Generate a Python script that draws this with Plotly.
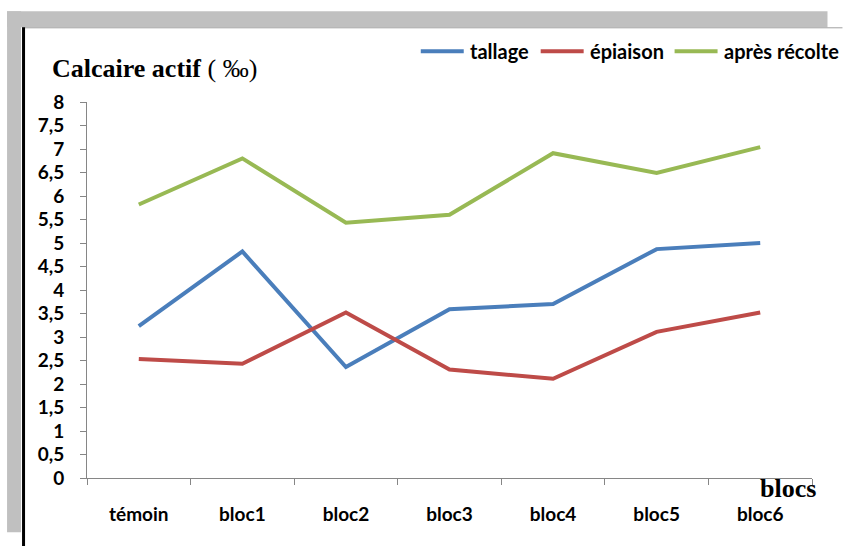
import plotly.graph_objects as go

# data
blocs = ['témoin', 'bloc1', 'bloc2', 'bloc3', 'bloc4', 'bloc5', 'bloc6']
tallage = [3.23, 4.82, 2.36, 3.59, 3.70, 4.87, 5.0]
epiaison = [2.53, 2.43, 3.52, 2.31, 2.11, 3.11, 3.52]
apres_recolte = [5.82, 6.80, 5.43, 5.60, 6.91, 6.49, 7.04]
series_names = ['tallage', 'épiaison', 'après récolte']
series_colors = ['#4A7EBB', '#BE4B48', '#98B954']
y_ticks = [0, 0.5, 1, 1.5, 2, 2.5, 3, 3.5, 4, 4.5, 5, 5.5, 6, 6.5, 7, 7.5, 8]
y_labels = ['0', '0,5', '1', '1,5', '2', '2,5', '3', '3,5', '4', '4,5',
            '5', '5,5', '6', '6,5', '7', '7,5', '8']

W, H = 843, 546
L, R, T, B = 87, 30.5, 101.7, 68.3
pw, ph = W - L - R, H - T - B


def px(x):
    return (x - L) / pw


def py(y):
    return (H - B - y) / ph


fig = go.Figure()
for name, vals, col in zip(series_names, [tallage, epiaison, apres_recolte], series_colors):
    fig.add_trace(go.Scatter(x=blocs, y=vals, mode='lines', name=name,
                             line=dict(color=col, width=4)))

axis_col = '#868686'
tick_font = dict(family='Lato', size=19, color='black', weight='bold')
fig.update_xaxes(type='category', range=[-0.5, 6.5], showline=True, linecolor=axis_col,
                 linewidth=1, ticks='outside', tickson='boundaries', ticklen=6,
                 tickcolor=axis_col, showgrid=False, zeroline=False,
                 tickfont=tick_font, ticklabelstandoff=19)
fig.update_yaxes(range=[0, 8], tickvals=y_ticks, ticktext=y_labels, showline=True,
                 linecolor=axis_col, linewidth=1, ticks='outside', ticklen=6,
                 tickcolor=axis_col, showgrid=False, zeroline=False,
                 tickfont=tick_font, ticklabelstandoff=12)

# frame / shadow around the chart
shapes = [
    dict(type='rect', xref='paper', yref='paper', x0=px(7), x1=px(828), y0=py(27), y1=py(11),
         fillcolor='#C0C0C0', line_width=0, layer='below'),
    dict(type='rect', xref='paper', yref='paper', x0=px(7), x1=px(21), y0=py(532), y1=py(11),
         fillcolor='#C0C0C0', line_width=0, layer='below'),
    dict(type='line', xref='paper', yref='paper', x0=px(22), x1=px(843), y0=py(27.5), y1=py(27.5),
         line=dict(color='#A0A0A0', width=1)),
    dict(type='line', xref='paper', yref='paper', x0=px(23.5), x1=px(23.5), y0=py(27), y1=py(546),
         line=dict(color='black', width=3)),
]

annotations = [
    dict(text='<b>Calcaire actif</b> ( ‰)', xref='paper', yref='paper',
         x=px(50), y=py(68), xanchor='left', yanchor='middle', showarrow=False,
         font=dict(family='Liberation Serif', size=26, color='black')),
    dict(text='<b>blocs</b>', xref='paper', yref='paper',
         x=px(819), y=py(488), xanchor='right', yanchor='middle', showarrow=False,
         font=dict(family='Liberation Serif', size=26, color='black')),
]

# legend drawn by hand: Excel-style longer line samples
leg_x = [421, 541, 675]
for x0, name, col in zip(leg_x, series_names, series_colors):
    shapes.append(dict(type='line', xref='paper', yref='paper', x0=px(x0), x1=px(x0 + 43),
                       y0=py(51), y1=py(51), line=dict(color=col, width=4)))
    annotations.append(dict(text='<b>' + name + '</b>', xref='paper', yref='paper',
                            x=px(x0 + 47), y=py(51), xanchor='left', yanchor='middle',
                            showarrow=False,
                            font=dict(family='Lato', size=20, color='black')))

fig.update_layout(
    width=W, height=H,
    margin=dict(l=L, r=R, t=T, b=B, autoexpand=False),
    paper_bgcolor='white', plot_bgcolor='white',
    shapes=shapes,
    annotations=annotations,
    showlegend=False,
)

# page has a default 8px body margin; drop it so the figure sits at (0, 0)
fig.write_html('out.html', config={'displayModeBar': False},
               post_script="document.body.style.margin='0';")
